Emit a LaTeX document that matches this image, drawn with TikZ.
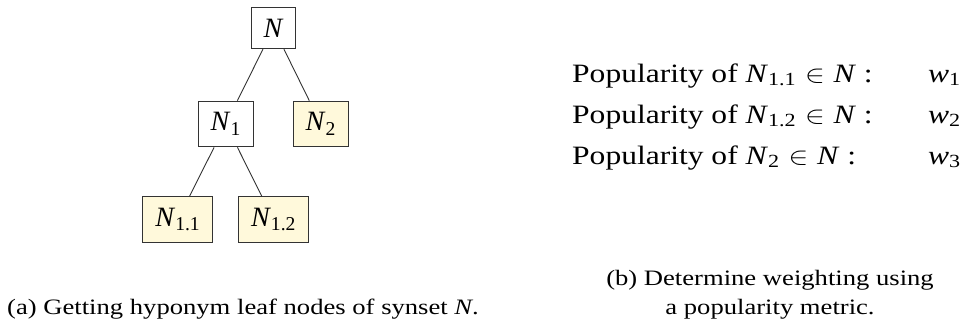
\documentclass[tikz,border=0pt]{standalone}
\usepackage{graphicx}
\usepackage{fontspec}
\setmainfont{Liberation Serif}
\definecolor{leafyellow}{HTML}{FFF9DB}
\definecolor{edgegray}{HTML}{333333}
\newcommand{\ssub}[1]{\textsubscript{#1}}
\newcommand{\relin}{\hspace{0.278em}$\in$\hspace{0.278em}}
\begin{document}
\begin{tikzpicture}[x=1pt,y=-1pt,
  tnode/.style={draw=edgegray,line width=1pt,fill=white,inner xsep=12.5pt,inner ysep=11.5pt,font=\fontsize{28}{34}\selectfont},
  leafnode/.style={tnode,fill=leafyellow},
  link/.style={draw=edgegray,line width=0.9pt},
  poptext/.style={anchor=base west,inner sep=0pt,font=\fontsize{26.5}{32}\selectfont},
  captext/.style={anchor=base,inner sep=0pt,font=\fontsize{22}{27}\selectfont}]
\useasboundingbox (0,0) rectangle (966,330);
% tree
\node[tnode] (n) at (273.5,28) {\textit{N}};
\node[tnode] (n1) at (225.8,124) {\textit{N}\ssub{1}};
\node[leafnode] (n2) at (320.8,124) {\textit{N}\ssub{2}};
\node[leafnode] (n11) at (177.8,219.7) {\textit{N}\ssub{1.1}};
\node[leafnode] (n12) at (273.5,219.7) {\textit{N}\ssub{1.2}};
\draw[link] (n) -- (n1);
\draw[link] (n) -- (n2);
\draw[link] (n1) -- (n11);
\draw[link] (n1) -- (n12);
% popularity list
\node[poptext] (p1) at (572,82) {\scalebox{1.19}[1]{Popularity of \textit{N}\ssub{1.1}\relin\textit{N}\ :}};
\node[poptext] (p2) at (572,123) {\scalebox{1.19}[1]{Popularity of \textit{N}\ssub{1.2}\relin\textit{N}\ :}};
\node[poptext] (p3) at (572,164) {\scalebox{1.19}[1]{Popularity of \textit{N}\ssub{2}\relin\textit{N}\ :}};
\node[poptext] (w1) at (928,82) {\scalebox{1.19}[1]{\textit{w}\ssub{1}}};
\node[poptext] (w2) at (928,123) {\scalebox{1.19}[1]{\textit{w}\ssub{2}}};
\node[poptext] (w3) at (928,164) {\scalebox{1.19}[1]{\textit{w}\ssub{3}}};
% captions
\node[captext] (ca) at (243,314) {\scalebox{1.21}[1]{(a) Getting hyponym leaf nodes of synset \textit{N}.}};
\node[captext] (cb1) at (770,285) {\scalebox{1.21}[1]{(b) Determine weighting using}};
\node[captext] (cb2) at (770,314) {\scalebox{1.21}[1]{a popularity metric.}};
\end{tikzpicture}
\end{document}
